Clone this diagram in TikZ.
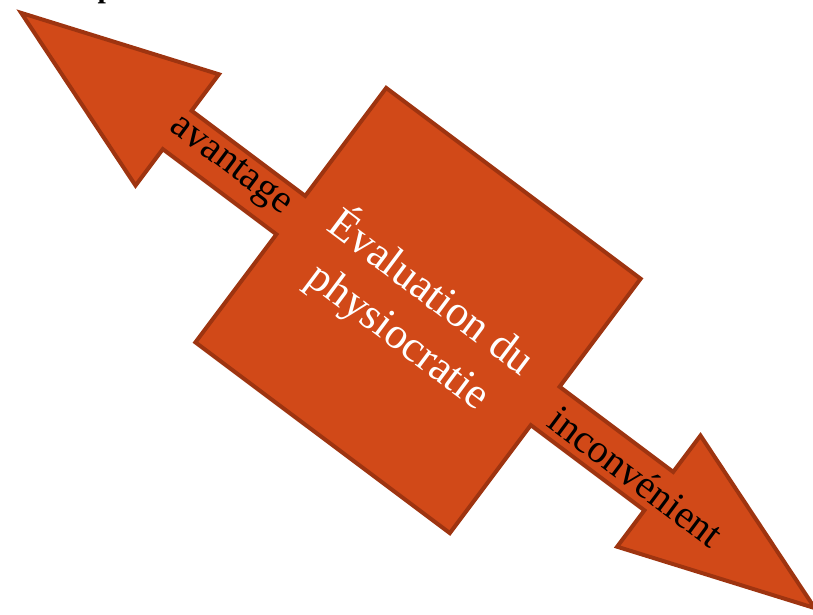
\documentclass[tikz,border=0pt]{standalone}
\usepackage{fontspec}
\setmainfont{Liberation Serif}
\definecolor{arrowfill}{RGB}{209,73,24}
\definecolor{arrowline}{RGB}{158,52,16}
\tikzset{
  shapebody/.style={fill=arrowfill, draw=arrowline, line width=4pt, line join=miter},
  maintext/.style={text=white, font=\fontsize{44}{54}\selectfont, align=center, transform shape, inner sep=0pt},
  armtext/.style={text=black, font=\fontsize{40}{48}\selectfont, transform shape, inner sep=0pt}
}
\begin{document}
\begin{tikzpicture}[x=1pt,y=1pt]
\useasboundingbox (0,0) rectangle (813,-614);
\node[font=\bfseries\fontsize{30}{36}\selectfont, anchor=base] (frag) at (106,2.5) {p};
\begin{scope}[shift={(418,-310.5)}, rotate=-36.87]
  \draw[shapebody] (-496,0) -- (-301,69.5) -- (-301,24) -- (-159,24) -- (-159,159)
    -- (159,159) -- (159,24) -- (301,24) -- (301,69.5) -- (496,0)
    -- (301,-69.5) -- (301,-24) -- (159,-24) -- (159,-159) -- (-159,-159)
    -- (-159,-24) -- (-301,-24) -- (-301,-69.5) -- cycle;
  \coordinate (c) at (0,0);
  \node[maintext] (main) at (0,-4) {Évaluation du\\physiocratie};
  \node[armtext] (adv) at (-237,2) {avantage};
  \node[armtext] (inc) at (274,-2) {inconvénient};
\end{scope}
\end{tikzpicture}
\end{document}
